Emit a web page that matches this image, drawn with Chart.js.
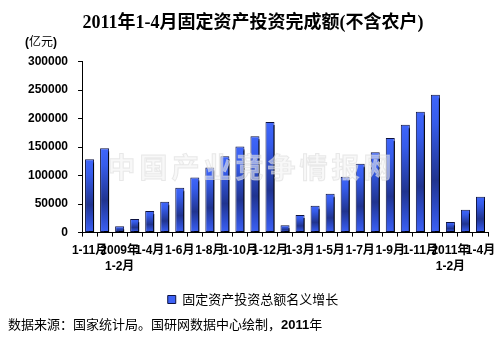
<!DOCTYPE html>
<html>
<head>
<meta charset="utf-8">
<script src="https://cdn.jsdelivr.net/npm/chart.js@4/dist/chart.umd.min.js"></script>
<style>
	html, body { margin: 0; padding: 0; background: #fff; }
	#wrap { position: relative; width: 503px; height: 340px; }
	#unit { position: absolute; left: 25px; top: 32px; font: 12px "Noto Sans CJK SC", sans-serif; color: #000; }
	#unit b { font-family: Arial, "Liberation Sans", sans-serif; }
	#source { position: absolute; left: 8px; top: 314px; font: 13px "Noto Sans CJK SC", sans-serif; color: #000; white-space: nowrap; }
	#source b { font-family: Arial, "Liberation Sans", sans-serif; }
</style>
</head>
<body>
<div id="wrap">
	<canvas id="chart" width="503" height="340"></canvas>
	<div id="unit"><b>(</b>亿元<b>)</b></div>
	<div id="source">数据来源：国家统计局。国研网数据中心绘制，<b>2011</b>年</div>
</div>
<script>
// periods, cumulative from Jan (2008 1-11 to 2011 1-4)
const categories = [
	'2008年1-11月', '2008年1-12月',
	'2009年1-2月', '2009年1-3月', '2009年1-4月', '2009年1-5月', '2009年1-6月', '2009年1-7月',
	'2009年1-8月', '2009年1-9月', '2009年1-10月', '2009年1-11月', '2009年1-12月',
	'2010年1-2月', '2010年1-3月', '2010年1-4月', '2010年1-5月', '2010年1-6月', '2010年1-7月',
	'2010年1-8月', '2010年1-9月', '2010年1-10月', '2010年1-11月', '2010年1-12月',
	'2011年1-2月', '2011年1-3月', '2011年1-4月'
];

// shown under the axis, every other period
const tickLabels = [
	'1-11月', '', ['2009年', '1-2月'], '', '1-4月', '', '1-6月', '', '1-8月', '', '1-10月', '', '1-12月',
	'', '1-3月', '', '1-5月', '', '1-7月', '', '1-9月', '', '1-11月', '', ['2011年', '1-2月'], '', '1-4月'
];

// 亿元
const investValues = [
	128500, 148000,
	11000, 23800, 38000, 54000, 78800, 96500, 114000, 134000, 151000, 169000, 194000,
	13000, 31000, 47000, 68000, 98000, 121000, 141000, 166000, 189000, 212000, 242000,
	18500, 40000, 63000
];

const yTicks = [0, 50000, 100000, 150000, 200000, 250000, 300000];

const seriesName = '固定资产投资总额名义增长';
const titleText = '2011年1-4月固定资产投资完成额(不含农户)';
const watermark = '中国产业竞争情报网';

// vertical gradient per bar, bright - dark band - bright
let barFill = (ctx) => {
	let { chart } = ctx;
	let yScale = chart.scales && chart.scales.y;
	if (ctx.type !== 'data' || !yScale) { return '#2f4fd8'; }
	let top = yScale.getPixelForValue(ctx.raw);
	let base = yScale.getPixelForValue(0);
	if (!isFinite(top) || !isFinite(base) || top === base) { return '#2f4fd8'; }
	let g = chart.ctx.createLinearGradient(0, top, 0, base);
	g.addColorStop(0, '#3f66fb');
	g.addColorStop(0.2, '#365ceb');
	g.addColorStop(0.62, '#203490');
	g.addColorStop(0.85, '#2f4fd2');
	g.addColorStop(1, '#3d62f6');
	return g;
};

// hard black drop shadow behind each bar
let barShadow = {
	id: 'barShadow',
	beforeDatasetDraw (chart) {
		let { ctx } = chart;
		ctx.save();
		ctx.shadowColor = '#000';
		ctx.shadowOffsetX = 3;
		ctx.shadowOffsetY = 3;
		ctx.shadowBlur = 0;
	},
	afterDatasetDraw (chart) {
		chart.ctx.restore();
	},
};

// faint site watermark across the plot
let watermarkText = {
	id: 'watermarkText',
	afterDatasetsDraw (chart) {
		let { ctx, chartArea } = chart;
		ctx.save();
		ctx.globalAlpha = 0.55;
		ctx.font = 'bold 28px "Noto Sans CJK SC", sans-serif';
		if ('letterSpacing' in ctx) { ctx.letterSpacing = '4px'; }
		ctx.textAlign = 'center';
		ctx.textBaseline = 'middle';
		let x = chart.width / 2;
		let y = chartArea.top + chartArea.height * 0.62;
		ctx.fillStyle = '#f2f2f2';
		ctx.fillText(watermark, x, y);
		ctx.lineWidth = 1;
		ctx.strokeStyle = '#d8d8d8';
		ctx.strokeText(watermark, x, y);
		ctx.restore();
	},
};

const axisFont = { family: 'Arial, "Liberation Sans", "Noto Sans CJK SC", sans-serif', size: 12, weight: 'bold', lineHeight: 1.35 };

new Chart(document.getElementById('chart'), {
	type: 'bar',
	data: {
		labels: categories,
		datasets: [{
			label: seriesName,
			data: investValues,
			backgroundColor: barFill,
			borderColor: '#0d1240',
			borderWidth: 1,
			borderSkipped: false,
			barPercentage: 0.6,
			categoryPercentage: 1,
			clip: { left: false, top: false, right: false, bottom: 0 },
		}],
	},
	options: {
		responsive: false,
		animation: false,
		devicePixelRatio: 1,
		layout: { padding: { left: 18, right: 15, top: 0, bottom: 24 } },
		plugins: {
			title: {
				display: true,
				text: titleText,
				color: '#000',
				font: { family: '"Liberation Serif", "Noto Sans CJK SC", serif', size: 18, weight: 'bold' },
				padding: { top: 13, bottom: 27 },
			},
			legend: {
				position: 'bottom',
				labels: {
					color: '#000',
					boxWidth: 8,
					boxHeight: 8,
					padding: 12,
					font: { family: '"Noto Sans CJK SC", sans-serif', size: 13 },
				},
			},
			tooltip: { enabled: false },
		},
		scales: {
			x: {
				ticks: {
					autoSkip: false,
					maxRotation: 0,
					minRotation: 0,
					padding: 6,
					color: '#000',
					font: axisFont,
					callback: (value, index) => tickLabels[index],
				},
				grid: { drawOnChartArea: false, tickLength: 4, color: '#000', offset: true },
				border: { color: '#000', width: 1 },
			},
			y: {
				min: 0,
				max: 300000,
				afterBuildTicks: (scale) => { scale.ticks = yTicks.map(v => ({ value: v })); },
				ticks: { color: '#000', padding: 10, font: axisFont, callback: (value) => String(value) },
				grid: { drawOnChartArea: false, tickLength: 4, color: '#000' },
				border: { color: '#000', width: 1 },
			},
		},
	},
	plugins: [ barShadow, watermarkText ],
});
</script>
</body>
</html>
